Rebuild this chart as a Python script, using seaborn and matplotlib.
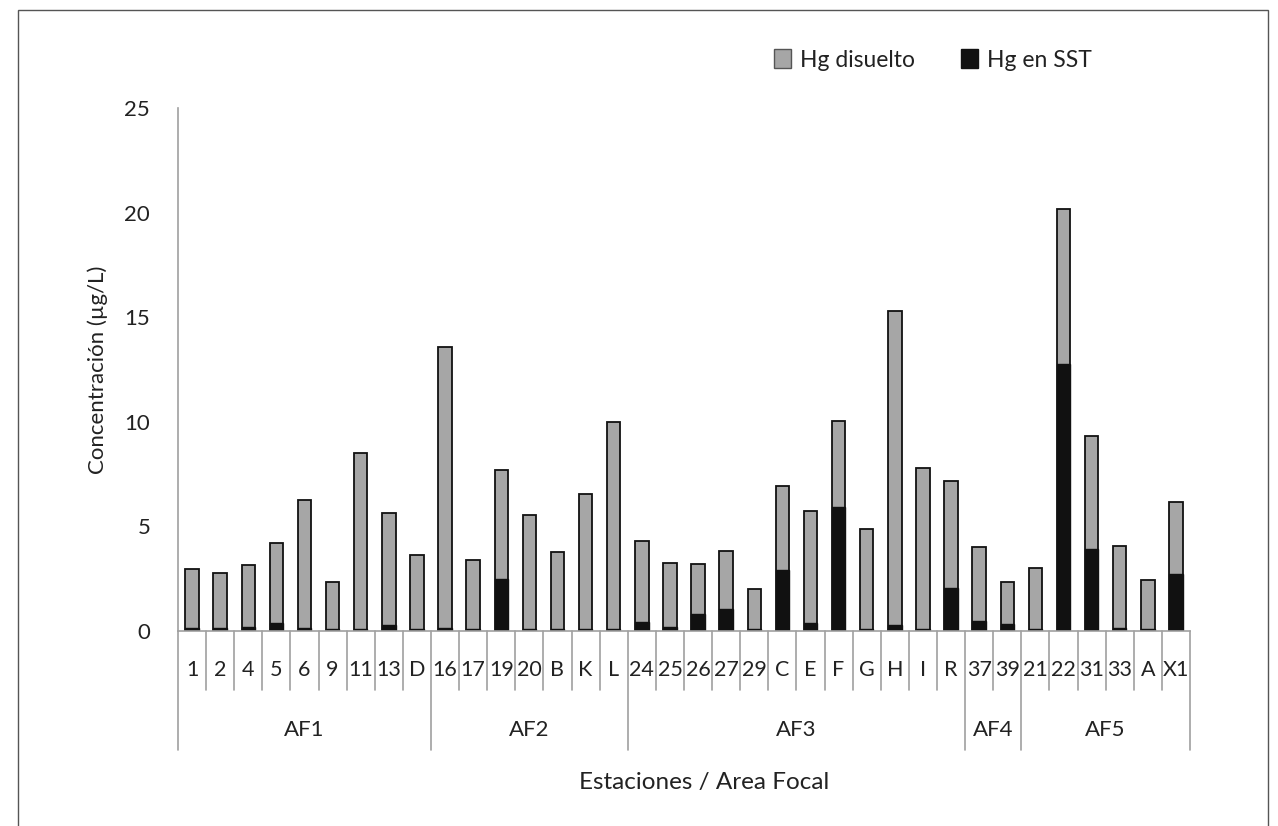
import numpy as np
import matplotlib
matplotlib.use("Agg")
import matplotlib.pyplot as plt
import matplotlib.patches as mpatches
import matplotlib.transforms as mtransforms
import seaborn as sns

# ----------------------------
# Data
# ----------------------------
stations = ["1", "2", "4", "5", "6", "9", "11", "13", "D",
            "16", "17", "19", "20", "B", "K", "L",
            "24", "25", "26", "27", "29", "C", "E", "F", "G", "H", "I", "R",
            "37", "39",
            "21", "22", "31", "33", "A", "X1"]
groups = ["AF1", "AF2", "AF3", "AF4", "AF5"]
group_sizes = [9, 7, 12, 2, 6]

# total height of each bar (Hg disuelto + Hg en SST)
hg_total = [2.97, 2.75, 3.17, 4.2, 6.28, 2.33, 8.49, 5.65, 3.63,
            13.58, 3.41, 7.68, 5.56, 3.76, 6.53, 9.99,
            4.3, 3.27, 3.22, 3.82, 2.02, 6.95, 5.74, 10.04, 4.86, 15.3, 7.81, 7.17,
            4.03, 2.34,
            3.03, 20.16, 9.34, 4.06, 2.42, 6.18]
hg_sst = [0.12, 0.15, 0.17, 0.4, 0.12, 0.1, 0.08, 0.27, 0.1,
          0.15, 0.1, 2.47, 0.1, 0.1, 0.1, 0.08,
          0.45, 0.2, 0.8, 1.04, 0.1, 2.9, 0.38, 5.93, 0.1, 0.27, 0.1, 2.07,
          0.48, 0.35,
          0.1, 12.75, 3.92, 0.15, 0.1, 2.74]
hg_disuelto = [t - s for t, s in zip(hg_total, hg_sst)]

GRAY = "#a6a6a6"
BLACK = "#111111"
AXIS_GRAY = "#a0a0a0"
TEXT = "#222222"

# ----------------------------
# Figure
# ----------------------------
sns.set_style("white")
plt.rcParams["font.family"] = ["Lato", "DejaVu Sans"]

fig = plt.figure(figsize=(12.78, 8.26), dpi=100)
ax = fig.add_axes([178 / 1278, 1 - 631 / 826, 1012 / 1278, 523 / 826])

# stacked bars: total in gray, SST part drawn over in black
sns.barplot(x=stations, y=hg_total, order=stations, color=GRAY, saturation=1,
            width=0.48, edgecolor=BLACK, linewidth=1.3, ax=ax)
sns.barplot(x=stations, y=hg_sst, order=stations, color=BLACK, saturation=1,
            width=0.48, edgecolor=BLACK, linewidth=1.0, ax=ax)

ax.set_xlim(-0.5, len(stations) - 0.5)
ax.set_ylim(0, 25)
ax.set_yticks([0, 5, 10, 15, 20, 25])
ax.tick_params(axis="y", direction="out", length=8, width=1, color=AXIS_GRAY,
               labelsize=16, labelcolor=TEXT, pad=12)
ax.set_xticks([])
ax.set_xlabel("")
ax.set_ylabel("Concentración (µg/L)", fontsize=16, color=TEXT, labelpad=12)

for side in ["top", "right"]:
    ax.spines[side].set_visible(False)
for side in ["left", "bottom"]:
    ax.spines[side].set_color(AXIS_GRAY)
    ax.spines[side].set_linewidth(1.2)

# ----------------------------
# Two-level category axis
# ----------------------------
trans = mtransforms.blended_transform_factory(ax.transData, ax.transAxes)
ax_h_px = 523.0
short_y = -(690 - 631) / ax_h_px
long_y = -(750 - 631) / ax_h_px
label_y = -(670 - 631) / ax_h_px
group_y = -(730 - 631) / ax_h_px

bounds = np.cumsum([0] + group_sizes)
for i in range(len(stations) + 1):
    x = i - 0.5
    y_end = long_y if i in bounds else short_y
    ax.plot([x, x], [0, y_end], color=AXIS_GRAY, lw=1.2, transform=trans,
            clip_on=False)

for i, name in enumerate(stations):
    ax.text(i, label_y, name, transform=trans, ha="center", va="center",
            fontsize=15.5, color=TEXT)

for g, name in enumerate(groups):
    center = (bounds[g] + bounds[g + 1] - 1) / 2
    ax.text(center, group_y, name, transform=trans, ha="center", va="center",
            fontsize=16, color=TEXT)

fig.text((178 + 1230) / 2 / 1278, 1 - 783 / 826, "Estaciones / Area Focal",
         ha="center", va="center", fontsize=17.5, color=TEXT)

# ----------------------------
# Legend
# ----------------------------
handles = [mpatches.Patch(facecolor=GRAY, edgecolor="#555555", label="Hg disuelto"),
           mpatches.Patch(facecolor=BLACK, edgecolor=BLACK, label="Hg en SST")]
fig.legend(handles=handles, loc="center", bbox_to_anchor=(933 / 1278, 1 - 60 / 826),
           ncol=2, frameon=False, fontsize=16.5, handlelength=0.75, handleheight=0.9,
           handletextpad=0.4, columnspacing=2.0, labelcolor=TEXT)

# outer frame of the picture
fig.patches.append(mpatches.Rectangle((18 / 1278, -0.02), 1250 / 1278, 1.02 - 10 / 826,
                                      transform=fig.transFigure, fill=False,
                                      edgecolor="#555555", lw=1.0))

fig.savefig("out.png", dpi=100)
